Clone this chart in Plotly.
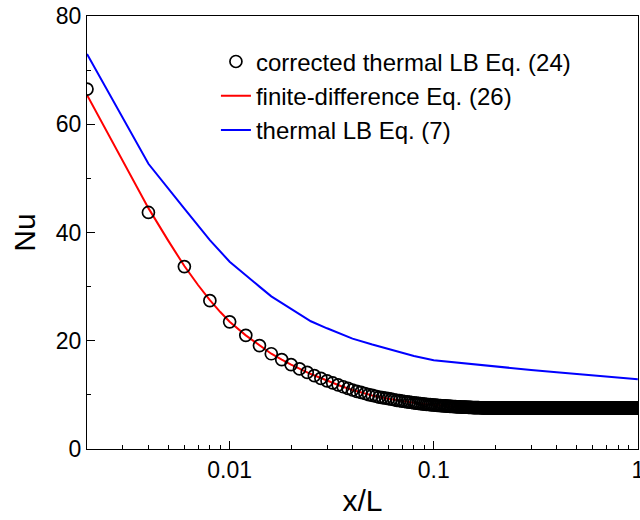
import math
import plotly.graph_objects as go

# ---------------- data ----------------
# corrected thermal LB Eq. (24): samples on a uniform grid of x/L = 0.002 .. 1.0
x_step = 0.002
n_points = 500
nu_corrected_head = [
    66.5, 43.7, 33.7, 27.4, 23.5, 21.0, 19.1, 17.6, 16.5, 15.6,
    14.8, 14.15, 13.55, 13.05, 12.6, 12.2, 11.85, 11.5, 11.2, 10.9,
    10.65, 10.45, 10.25, 10.05, 9.9, 9.75, 9.6, 9.5, 9.4, 9.3,
    9.2, 9.1, 9.0, 8.92, 8.85, 8.78, 8.71, 8.65, 8.59, 8.53,
    8.48, 8.43, 8.38, 8.34, 8.3, 8.26, 8.22, 8.19, 8.16, 8.13,
    8.10, 8.07, 8.04, 8.02, 7.99, 7.97, 7.95, 7.93, 7.91, 7.89,
    7.87, 7.85, 7.83, 7.82, 7.80, 7.79, 7.77, 7.76, 7.75, 7.74,
    7.73, 7.72, 7.71, 7.70, 7.69, 7.68, 7.67, 7.66, 7.65, 7.65,
    7.64, 7.63, 7.63, 7.62, 7.62, 7.61, 7.61, 7.60, 7.60, 7.60,
    7.59, 7.59, 7.59, 7.58, 7.58, 7.58, 7.57, 7.57, 7.57, 7.57,
]
nu_corrected = nu_corrected_head + [7.56] * 25 + [7.55] * 25 + [7.54] * 350
x_corrected = [round(x_step * (k + 1), 3) for k in range(n_points)]

# finite-difference Eq. (26)
x_fd = [0.002, 0.003, 0.004, 0.005, 0.006, 0.007, 0.008, 0.009, 0.01, 0.012,
        0.014, 0.016, 0.018, 0.02, 0.025, 0.03, 0.035, 0.04, 0.05, 0.06,
        0.07, 0.08, 0.09, 0.1, 0.12, 0.15, 0.2, 0.3, 0.5, 1.0]
nu_fd = [65.4, 53.2, 44.5, 38.5, 33.8, 30.3, 27.5, 25.3, 23.5, 21.0,
         19.1, 17.6, 16.5, 15.6, 13.85, 12.6, 11.65, 10.9, 9.9, 9.3,
         8.85, 8.53, 8.3, 8.13, 7.89, 7.73, 7.57, 7.54, 7.54, 7.54]

# thermal LB Eq. (7)
x_lb = [0.002, 0.004, 0.006, 0.008, 0.01, 0.012, 0.014, 0.016, 0.02, 0.025,
        0.03, 0.04, 0.05, 0.06, 0.07, 0.08, 0.1, 0.15, 0.2, 0.3,
        0.4, 0.6, 0.8, 1.0]
nu_lb = [73.0, 52.7, 44.4, 38.6, 34.6, 32.2, 30.0, 28.2, 25.9, 23.6,
         22.3, 20.4, 19.3, 18.5, 17.8, 17.2, 16.4, 15.7, 15.2, 14.6,
         14.2, 13.6, 13.2, 12.9]

x_tickvals = [0.01, 0.1, 1]
x_ticktext = ["0.01", "0.1", "1"]
x_minor = [0.003, 0.004, 0.005, 0.006, 0.007, 0.008, 0.009,
           0.02, 0.03, 0.04, 0.05, 0.06, 0.07, 0.08, 0.09,
           0.2, 0.3, 0.4, 0.5, 0.6, 0.7, 0.8, 0.9]

FONT = "Liberation Sans, Arial, Helvetica, sans-serif"

fig = go.Figure()
fig.add_trace(go.Scatter(
    x=x_fd, y=nu_fd, mode="lines", name="finite-difference Eq. (26)",
    line=dict(color="#ff0000", width=2), legendrank=2))
fig.add_trace(go.Scatter(
    x=x_lb, y=nu_lb, mode="lines", name="thermal LB Eq. (7)",
    line=dict(color="#0000ff", width=2), legendrank=3))
fig.add_trace(go.Scatter(
    x=x_corrected, y=nu_corrected, mode="markers",
    name="corrected thermal LB Eq. (24)",
    marker=dict(symbol="circle-open", size=12, color="black",
                line=dict(color="black", width=1.7)),
    legendrank=1))

fig.update_layout(
    width=640, height=520,
    margin=dict(l=87, r=2, t=16, b=71),
    paper_bgcolor="white", plot_bgcolor="white",
    font=dict(family=FONT, color="black", size=23),
    showlegend=True,
    legend=dict(x=0.234, y=0.946, xanchor="left", yanchor="top",
                bgcolor="rgba(0,0,0,0)", borderwidth=0,
                font=dict(size=24, family=FONT), tracegroupgap=0),
    xaxis=dict(
        type="log", range=[math.log10(0.002), 0.001],
        automargin=False,
        tickmode="array", tickvals=x_tickvals, ticktext=x_ticktext,
        ticks="inside", ticklen=8, tickwidth=1, tickcolor="black",
        ticklabeloverflow="allow",
        showline=True, linecolor="black", linewidth=1, mirror=True,
        showgrid=False, zeroline=False,
        tickfont=dict(size=23),
        minor=dict(tickmode="array", tickvals=x_minor, ticks="inside",
                   ticklen=4, tickcolor="black", showgrid=False),
        title=dict(text="x/L", font=dict(size=30), standoff=8),
    ),
    yaxis=dict(
        range=[0, 80], tickmode="linear", tick0=0, dtick=20,
        automargin=False,
        ticks="inside", ticklen=8, tickwidth=1, tickcolor="black",
        showline=True, linecolor="black", linewidth=1, mirror=True,
        showgrid=False, zeroline=False,
        tickfont=dict(size=23),
        minor=dict(dtick=10, ticks="inside", ticklen=4,
                   tickcolor="black", showgrid=False),
        title=dict(text="Nu", font=dict(size=30), standoff=11),
    ),
)

fig.write_html("out.html",
               config={"displayModeBar": False},
               post_script="document.body.style.margin='0';document.body.style.overflow='hidden';")
